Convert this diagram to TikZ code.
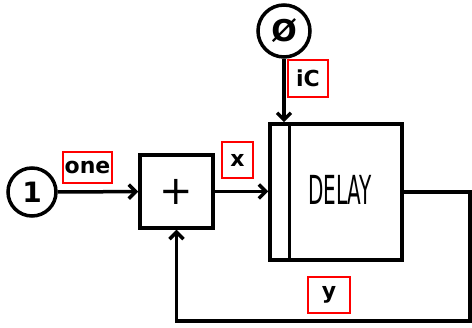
\documentclass[tikz,border=0pt]{standalone}
\usepackage{fontspec}
\setmainfont{DejaVu Sans}
\usetikzlibrary{arrows.meta}
\tikzset{
  wire/.style={line width=3.5pt, -{Straight Barb[length=7pt,width=14pt]}},
  plainwire/.style={line width=3.5pt},
  circnode/.style={circle, draw, line width=3.5pt, inner sep=0pt, font=\fontsize{28}{28}\selectfont\bfseries},
  blockbox/.style={rectangle, draw, line width=3.5pt, inner sep=0pt},
  tag/.style={rectangle, draw=red, line width=2.5pt, inner sep=0pt, font=\fontsize{22}{22}\selectfont\bfseries}
}
\begin{document}
\begin{tikzpicture}[x=1pt,y=-1pt]
\useasboundingbox (0,0) rectangle (472,328);
\node[circnode, minimum size=48pt] (one) at (32,192) {1};
\node[blockbox, minimum width=73pt, minimum height=73pt, font=\fontsize{40}{40}\selectfont] (plus) at (176.5,191.5) {+};
\node[blockbox, minimum width=132pt, minimum height=136pt] (delay) at (336,192) {};
\draw[plainwire] ([xshift=21pt]delay.north west) -- ([xshift=21pt]delay.south west);
\node[font=\fontsize{40}{40}\selectfont] (delaytext) at (340,190) {\scalebox{0.5}[1]{DELAY}};
\node[circnode, minimum size=52pt, font=\fontsize{30}{30}\selectfont\bfseries] (zero) at (284,31) {\O};
\coordinate (fbR) at (470,321);
\coordinate (fbL) at (176.5,321);
\draw[wire] (one) -- (plus);
\draw[wire] (plus) -- (plus -| delay.west);
\draw[wire] (zero.south) -- (zero.south |- delay.north);
\draw[wire] (delay.east) -| (fbR) -- (fbL) -- (plus.south);
\node[tag, minimum width=49pt, minimum height=31pt] (tone) at (87.5,167.5) {one};
\node[tag, minimum width=31pt, minimum height=36pt] (tx) at (237.5,160) {x};
\node[tag, minimum width=40pt, minimum height=37pt] (tic) at (308,78.5) {iC};
\node[tag, minimum width=42pt, minimum height=36pt] (ty) at (329,295) {y};
\end{tikzpicture}
\end{document}
